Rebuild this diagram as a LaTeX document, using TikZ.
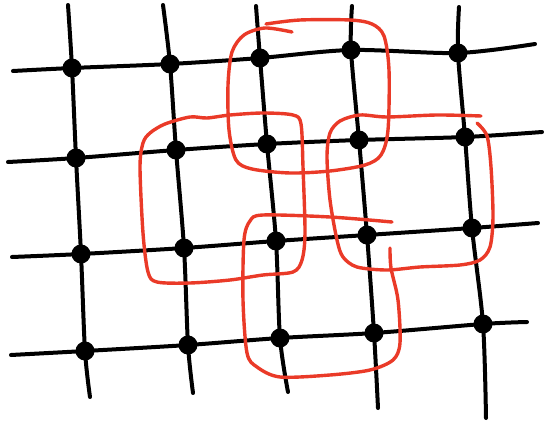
\documentclass[tikz,border=0pt]{standalone}
\begin{document}
\begin{tikzpicture}[x=1pt,y=-1pt,
  gridline/.style={line width=4pt,line cap=round,line join=round,black},
  loop/.style={line width=3.4pt,line cap=round,line join=round,draw=loopred},
  dot/.style={circle,fill=black,inner sep=0pt,minimum size=19pt}]
\definecolor{loopred}{RGB}{234,58,40}
\useasboundingbox (0,0) rectangle (544,423);
% dot positions (column, row)
\coordinate (p11) at (72,68);  \coordinate (p21) at (170,64);  \coordinate (p31) at (260,58);  \coordinate (p41) at (351,50);  \coordinate (p51) at (458,53);
\coordinate (p12) at (76,158); \coordinate (p22) at (176,150); \coordinate (p32) at (267,144); \coordinate (p42) at (359,140); \coordinate (p52) at (465,137);
\coordinate (p13) at (81,254); \coordinate (p23) at (184,248); \coordinate (p33) at (276,241); \coordinate (p43) at (367,235); \coordinate (p53) at (472,228);
\coordinate (p14) at (85,351); \coordinate (p24) at (188,345); \coordinate (p34) at (280,338); \coordinate (p44) at (374,333); \coordinate (p54) at (483,324);
% line ends
\coordinate (h1a) at (13,71);  \coordinate (h1b) at (535,44);
\coordinate (h2a) at (8,162);  \coordinate (h2b) at (542,132);
\coordinate (h3a) at (12,257); \coordinate (h3b) at (538,223);
\coordinate (h4a) at (11,355); \coordinate (h4b) at (527,322);
\coordinate (v1a) at (68,5);   \coordinate (v1b) at (90,397);
\coordinate (v2a) at (163,5);  \coordinate (v2b) at (193,393);
\coordinate (v3a) at (256,6);  \coordinate (v3b) at (288,392);
\coordinate (v4a) at (352,6);  \coordinate (v4b) at (378,408);
\coordinate (v5a) at (459,7);  \coordinate (v5b) at (486,418);
% grid
\draw[gridline] plot[smooth] coordinates {(h1a) (p11) (p21) (p31) (p41) (p51) (h1b)};
\draw[gridline] plot[smooth] coordinates {(h2a) (p12) (p22) (p32) (p42) (p52) (h2b)};
\draw[gridline] plot[smooth] coordinates {(h3a) (p13) (p23) (p33) (p43) (p53) (h3b)};
\draw[gridline] plot[smooth] coordinates {(h4a) (p14) (p24) (p34) (p44) (p54) (h4b)};
\draw[gridline] plot[smooth] coordinates {(v1a) (p11) (p12) (p13) (p14) (v1b)};
\draw[gridline] plot[smooth] coordinates {(v2a) (p21) (p22) (p23) (p24) (v2b)};
\draw[gridline] plot[smooth] coordinates {(v3a) (p31) (p32) (p33) (p34) (v3b)};
\draw[gridline] plot[smooth] coordinates {(v4a) (p41) (p42) (p43) (p44) (v4b)};
\draw[gridline] plot[smooth] coordinates {(v5a) (p51) (p52) (p53) (p54) (v5b)};
% dots
\foreach \c in {1,...,5}{\foreach \r in {1,...,4}{\node[dot] (n\c\r) at (p\c\r) {};}}
% red loops
\draw[loop] plot[smooth] coordinates {(292,32) (265,28) (244,35) (232,52) (228,85) (229,130) (236,160) (252,169) (290,173) (330,171) (365,165) (381,155) (388,130) (389,70) (384,36) (372,24) (350,20) (300,20) (266,24)};
\draw[loop] plot[smooth cycle] coordinates {(150,133) (165,124) (190,117) (207,118) (230,115) (263,113) (293,115) (301,124) (303,167) (305,233) (302,260) (293,272) (263,275) (230,280) (190,283) (157,282) (148,272) (143,233) (140,167) (143,143)};
\draw[loop] plot[smooth] coordinates {(477,123) (487,136) (491,167) (493,217) (490,247) (480,260) (460,265) (420,267) (387,270) (357,267) (343,257) (337,240) (330,200) (327,157) (330,133) (340,121) (360,115) (387,117) (437,115) (481,116)};
\draw[loop] plot[smooth] coordinates {(390,248) (391,268) (398,300) (400,343) (393,360) (370,370) (330,375) (280,377) (257,367) (247,353) (243,300) (244,240) (250,221) (263,215) (330,217) (392,222)};
\end{tikzpicture}
\end{document}
